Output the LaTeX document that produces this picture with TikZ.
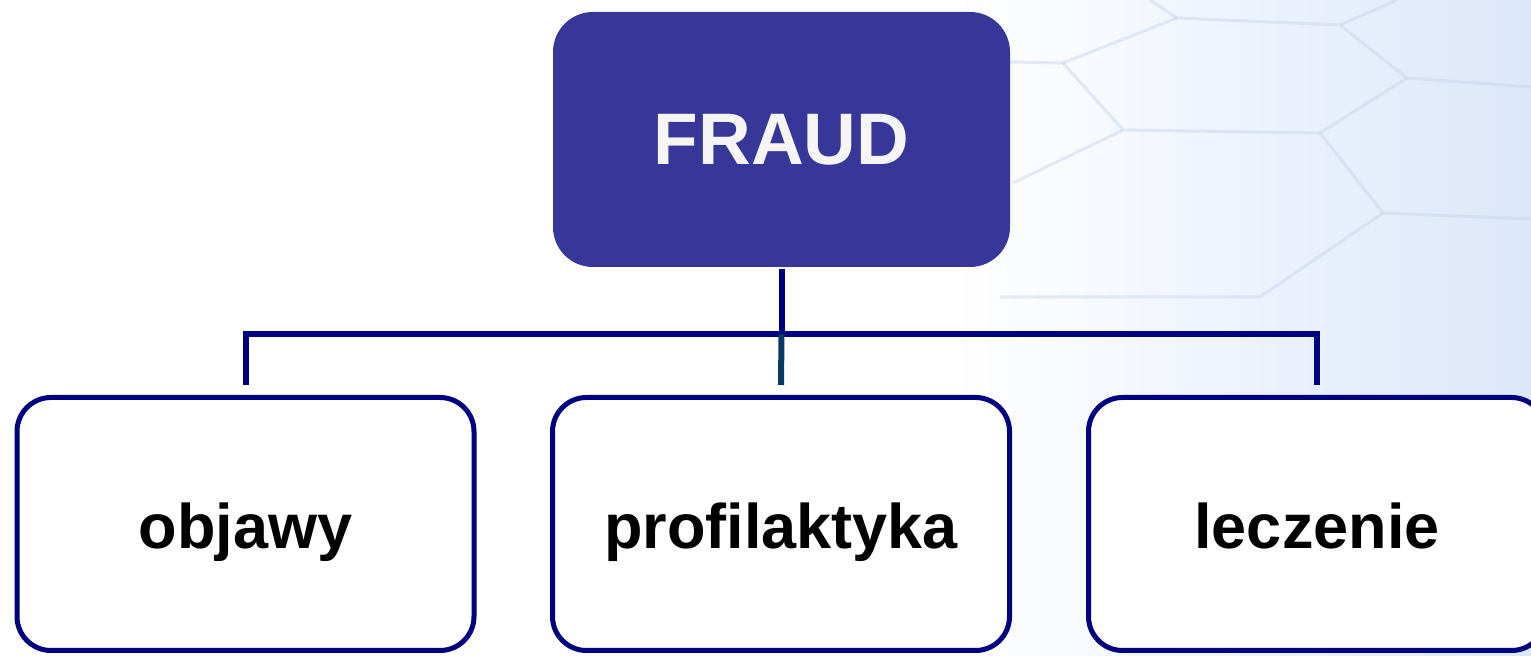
\documentclass[tikz,border=0pt]{standalone}
\usepackage{fontspec}
\setmainfont{Liberation Sans}
\usetikzlibrary{positioning,calc}

\definecolor{granat}{RGB}{0,0,128}
\definecolor{fiolet}{RGB}{55,55,153}
\definecolor{morski}{RGB}{8,56,100}
\definecolor{tlo}{RGB}{220,231,250}
\definecolor{plaster}{RGB}{196,211,234}

\begin{document}
\begin{tikzpicture}[x=0.5pt,y=-0.5pt,%
                    glowny/.style={fill=fiolet,rounded corners=20pt,inner sep=0,minimum width=228.5pt,minimum height=127.5pt,text height=25pt,text depth=0pt,text=white!96!black,font=\bfseries\fontsize{36.5}{40}\selectfont},
                    dziedzina/.style={draw=granat,line width=2.5pt,fill=white,rounded corners=17pt,inner sep=0,minimum width=228.5pt,minimum height=126.5pt,text height=25pt,text depth=0pt,font=\bfseries\fontsize{31.5}{36}\selectfont},
                    linia/.style={draw=granat,line width=3pt},
                    plaster/.style={draw=plaster,line width=1.5pt,opacity=0.45},
        ]
        \useasboundingbox (0,0) rectangle (1531,656);
        \clip (0,0) rectangle (1531,656);
        % tlo z plastrem
        \fill[white] (0,0) rectangle (1531,656);
        \shade[left color=white,right color=tlo] (950,0) rectangle (1531,656);
        \draw[plaster] (1010,62) -- (1063,63) -- (1177,18) -- (1340,25) -- (1407,78) -- (1531,87);
        \draw[plaster] (1177,18) -- (1150,0);
        \draw[plaster] (1340,25) -- (1397,0);
        \draw[plaster] (1063,63) -- (1123,130) -- (1320,133) -- (1407,78);
        \draw[plaster] (1123,130) -- (1013,183);
        \draw[plaster] (1320,133) -- (1383,213) -- (1531,219);
        \draw[plaster] (1383,213) -- (1260,297) -- (1000,297);
%
        \node[glowny] (fraud) at (781.5,139.5) {FRAUD};
        \node[dziedzina] (objawy) at (245.5,524) {objawy};
        \node[dziedzina] (profilaktyka) at (781,524) {profilaktyka};
        \node[dziedzina] (leczenie) at (1317,524) {leczenie};
%
        \coordinate (wezel) at (781.5,334);
        \coordinate (lewy) at (245.5,334);
        \coordinate (prawy) at (1317,334);
        \draw[linia] ([yshift=-1pt]fraud.south) -- (wezel);
        \draw[linia] ([yshift=5pt]objawy.north) -- (lewy) -- (prawy) -- ([yshift=5pt]leczenie.north);
        \draw[linia,draw=morski] (wezel) -- ([yshift=5pt]profilaktyka.north);
    \end{tikzpicture}
\end{document}
